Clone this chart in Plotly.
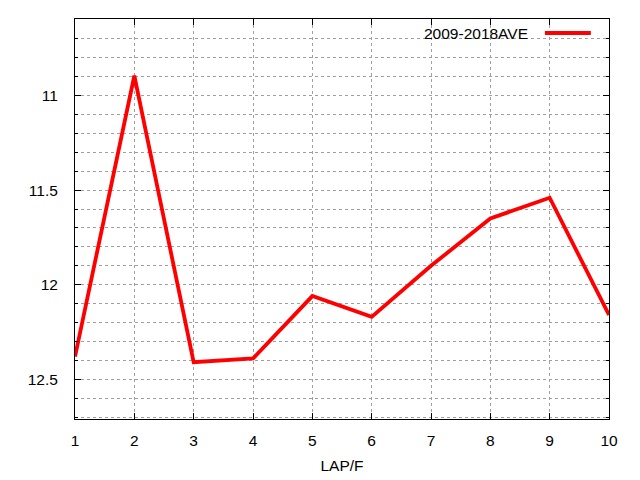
import plotly.graph_objects as go

# datos
laps = [1, 2, 3, 4, 5, 6, 7, 8, 9, 10]
ave_2009_2018 = [12.38, 10.895, 12.41, 12.39, 12.06, 12.17, 11.90, 11.65, 11.54, 12.16]
serie_nombre = "2009-2018AVE"
x_titulo = "LAP/F"

fig = go.Figure()
fig.add_trace(go.Scatter(x=laps, y=ave_2009_2018, mode="lines", name=serie_nombre,
                         line=dict(color="#ff0000", width=3.8), showlegend=False))

# leyenda al estilo gnuplot: texto a la izquierda, muestra de linea a la derecha
fig.add_annotation(text=serie_nombre, xref="paper", yref="paper", x=0.852, y=0.965,
                   xanchor="right", yanchor="middle", showarrow=False,
                   font=dict(size=15.5, color="black"))
fig.add_shape(type="line", xref="paper", yref="paper", x0=0.880, x1=0.966, y0=0.965, y1=0.965,
              line=dict(color="#ff0000", width=3.8))

grid = dict(showgrid=True, gridcolor="#a0a0a0", griddash="dot", gridwidth=1)

fig.update_xaxes(range=[1, 10], dtick=1, tick0=1, ticks="inside", ticklen=6, tickcolor="black",
                 showline=True, linecolor="black", linewidth=1, mirror="allticks",
                 zeroline=False, ticklabelstandoff=7,
                 title=dict(text=x_titulo, standoff=12, font=dict(size=15.5)), **grid)
fig.update_yaxes(range=[12.71, 10.595], dtick=0.5, tick0=0, ticks="inside", ticklen=6,
                 tickcolor="black", showline=True, linecolor="black", linewidth=1,
                 mirror="allticks", zeroline=False, ticklabelstandoff=13,
                 minor=dict(dtick=0.1, ticks="inside", ticklen=3, tickcolor="black",
                            showgrid=True, gridcolor="#a0a0a0", griddash="dot", gridwidth=1),
                 **grid)

# el body del html tiene 8px de margen, se compensa aqui
fig.update_layout(width=640, height=480, plot_bgcolor="white", paper_bgcolor="white",
                  margin=dict(l=67, r=39, t=11, b=69),
                  font=dict(family="Liberation Sans, Arial", size=15.5, color="black"))

fig.write_html("out.html")
